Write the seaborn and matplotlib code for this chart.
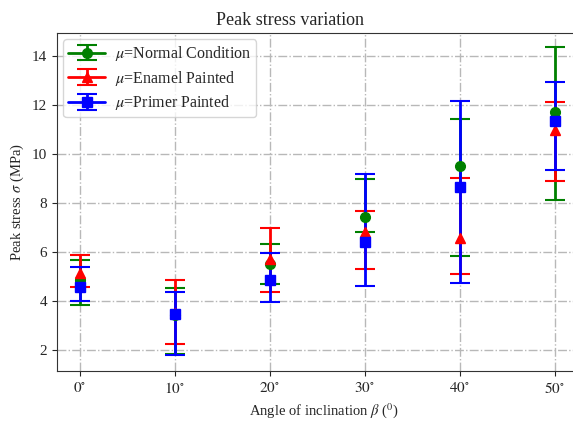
import numpy as np
import matplotlib
matplotlib.use("Agg")
from matplotlib import pyplot as plt
import seaborn as sns

sns.set_style("ticks")
plt.rcParams['font.family'] = ['Liberation Serif', 'DejaVu Serif']
plt.rcParams['mathtext.fontset'] = 'stix'

angles = [0, 10, 20, 30, 40, 50]
tick_labels = [r'$%d^{\circ}$' % a for a in angles]

normal_mean = [4.86, 3.45, 5.50, 7.43, 9.51, 11.73]
normal_upper = [5.70, 4.52, 6.35, 8.97, 11.43, 14.38]
normal_lower = [3.84, 1.84, 4.72, 6.82, 5.84, 8.15]

enamel_mean = [5.14, 3.50, 5.74, 6.83, 6.56, 11.00]
enamel_upper = [5.88, 4.88, 6.98, 7.70, 9.03, 12.11]
enamel_lower = [4.58, 2.27, 4.36, 5.31, 5.10, 8.91]

primer_mean = [4.57, 3.46, 4.86, 6.42, 8.67, 11.36]
primer_upper = [5.40, 4.38, 5.95, 9.18, 12.16, 12.95]
primer_lower = [4.01, 1.80, 3.95, 4.61, 4.76, 9.36]

series = [
    (r'$\mu$=Normal Condition', normal_mean, normal_lower, normal_upper, 'green', 'o'),
    (r'$\mu$=Enamel Painted', enamel_mean, enamel_lower, enamel_upper, 'red', '^'),
    (r'$\mu$=Primer Painted', primer_mean, primer_lower, primer_upper, 'blue', 's'),
]

fig = plt.figure(figsize=(5.73, 4.21), dpi=100)
# axes run past the right edge, like the cropped original
ax = fig.add_axes([0.0995, 0.1188, 0.93, 0.803])

containers = []
for label, mean, lower, upper, color, marker in series:
    mean = np.array(mean)
    yerr = [mean - np.array(lower), np.array(upper) - mean]
    c = ax.errorbar(angles, mean, yerr=yerr, fmt='-' + marker, color=color, ecolor=color,
                    markersize=7, linewidth=2, elinewidth=2, capsize=7, capthick=1.5,
                    label=label)
    containers.append(c)

ax.set_xlim(-2.4, 53.7)
ax.set_ylim(1.15, 14.95)
ax.set_xticks(angles)
ax.set_xticklabels(tick_labels, fontsize=11)
ax.set_yticks([2, 4, 6, 8, 10, 12, 14])
ax.tick_params(axis='y', labelsize=11)
ax.grid(True, linestyle='-.', color='#b8b8b8', linewidth=1)
ax.set_axisbelow(True)
for s in ax.spines.values():
    s.set_color('#333333')

ax.set_title('Peak stress variation', fontsize=13, x=(290 - 57) / 533.0)
ax.set_xlabel(r'Angle of inclination $\beta$ ($^0$)', fontsize=10.5)
ax.set_ylabel(r'Peak stress $\sigma$ (MPa)', fontsize=10.5)
ax.legend(loc='upper left', fontsize=11.5, frameon=True, handlelength=2.3,
          borderaxespad=0.4, borderpad=0.3, labelspacing=0.35, handletextpad=0.6)

# keep the line in the legend handles only
for c in containers:
    c.lines[0].set_linestyle('none')

fig.savefig('out.png', dpi=100)
